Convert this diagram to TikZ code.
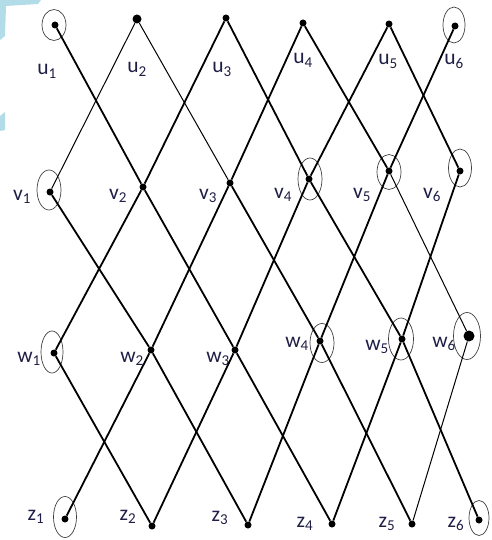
\documentclass[tikz,border=0pt]{standalone}
\usepackage{fontspec}
\setmainfont{Carlito}
\usetikzlibrary{shapes.geometric}
\definecolor{labelink}{RGB}{30,30,70}
\definecolor{cornerblue}{RGB}{178,220,232}
\begin{document}
\begin{tikzpicture}[x=1pt,y=-1pt]
\tikzstyle{vx}=[circle,fill=black,inner sep=0pt,minimum size=7pt]
\tikzstyle{ring}=[ellipse,draw=black!75,line width=.7pt,inner sep=0pt,minimum width=24pt,minimum height=38pt]
\tikzstyle{lbl}=[anchor=base,inner sep=0pt,text=labelink,font=\fontsize{21.5}{21.5}\selectfont]
\tikzstyle{e}=[line width=1.8pt]
\tikzstyle{ethin}=[line width=1pt]
\useasboundingbox (0,0) rectangle (491,540);
\fill[cornerblue] (0,0) -- (41,0) -- (38,4) -- (6,6) -- (5,36) -- (0,40) -- cycle;
\fill[cornerblue] (0,116) -- (5,112) -- (5,130) -- (0,131) -- cycle;
\node[vx] (u1) at (55,25) {};
\node[vx,minimum height=9pt] (u2) at (137,19) {};
\node[vx] (u3) at (226,18) {};
\node[vx] (u4) at (303,23) {};
\node[vx] (u5) at (389,24) {};
\node[vx] (u6) at (455,26) {};
\node[vx] (v1) at (50,192) {};
\node[vx] (v2) at (143,187) {};
\node[vx] (v3) at (230,183) {};
\node[vx] (v4) at (309,179) {};
\node[vx] (v5) at (389,171) {};
\node[vx] (v6) at (460,171) {};
\node[vx] (w1) at (54,353) {};
\node[vx] (w2) at (151,350) {};
\node[vx] (w3) at (235,350) {};
\node[vx] (w4) at (320,341) {};
\node[vx] (w5) at (402,339) {};
\node[vx,minimum height=11pt] (w6) at (469,336) {};
\node[vx] (z1) at (65,519) {};
\node[vx] (z2) at (152,526) {};
\node[vx] (z3) at (248,525) {};
\node[vx] (z4) at (332,524) {};
\node[vx] (z5) at (412,524) {};
\node[vx] (z6) at (479,520) {};
\node[ring,minimum height=31pt] (ru1) at (54,25) {};
\node[ring,minimum width=22pt,minimum height=36pt] (ru6) at (454,25) {};
\node[ring,minimum height=40pt] (rv1) at (49,190) {};
\node[ring,minimum height=42pt] (rv4) at (310,179) {};
\node[ring,minimum height=35pt] (rv5) at (389,172) {};
\node[ring,minimum width=23pt] (rv6) at (460,168) {};
\node[ring,minimum width=22pt,minimum height=42pt] (rw1) at (52,352) {};
\node[ring,minimum height=39pt] (rw4) at (322,343) {};
\node[ring,minimum width=25pt,minimum height=42pt] (rw5) at (401,339) {};
\node[ring,minimum width=27pt,minimum height=47pt] (rw6) at (467,336) {};
\node[ring,minimum width=23pt,minimum height=41pt] (rz1) at (65,517) {};
\node[ring,minimum width=20pt,minimum height=35pt] (rz6) at (479,518) {};
\node[lbl] (lu1) at (47,75) {u\textsubscript{1}};
\node[lbl] (lu2) at (137,73) {u\textsubscript{2}};
\node[lbl] (lu3) at (222,73) {u\textsubscript{3}};
\node[lbl] (lu4) at (303,64) {u\textsubscript{4}};
\node[lbl] (lu5) at (388,65) {u\textsubscript{5}};
\node[lbl] (lu6) at (454,65) {u\textsubscript{6}};
\node[lbl] (lv1) at (22,200) {v\textsubscript{1}};
\node[lbl] (lv2) at (118,199) {v\textsubscript{2}};
\node[lbl] (lv3) at (208,199) {v\textsubscript{3}};
\node[lbl] (lv4) at (283,198) {v\textsubscript{4}};
\node[lbl] (lv5) at (362,198) {v\textsubscript{5}};
\node[lbl] (lv6) at (432,198) {v\textsubscript{6}};
\node[lbl] (lw1) at (29,362) {w\textsubscript{1}};
\node[lbl] (lw2) at (132,362) {w\textsubscript{2}};
\node[lbl] (lw3) at (218,362) {w\textsubscript{3}};
\node[lbl] (lw4) at (297,347) {w\textsubscript{4}};
\node[lbl] (lw5) at (377,350) {w\textsubscript{5}};
\node[lbl] (lw6) at (444,347) {w\textsubscript{6}};
\node[lbl] (lz1) at (36,520) {z\textsubscript{1}};
\node[lbl] (lz2) at (128,520) {z\textsubscript{2}};
\node[lbl] (lz3) at (220,521) {z\textsubscript{3}};
\node[lbl] (lz4) at (305,527) {z\textsubscript{4}};
\node[lbl] (lz5) at (387,527) {z\textsubscript{5}};
\node[lbl] (lz6) at (456,527) {z\textsubscript{6}};
\draw[e] (u1)--(v2);\draw[ethin] (u2)--(v1);\draw[ethin] (u2)--(v3);
\draw[e] (u3)--(v2);\draw[e] (u3)--(v4);\draw[e] (u4)--(v3);\draw[e] (u4)--(v5);
\draw[e] (u5)--(v4);\draw[e] (u5)--(v6);\draw[e] (u6)--(v5);
\draw[e] (v1)--(w2);\draw[e] (v2)--(w1);\draw[e] (v2)--(w3);
\draw[e] (v3)--(w2);\draw[e] (v3)--(w4);\draw[e] (v4)--(w3);\draw[e] (v4)--(w5);
\draw[e] (v5)--(w4);\draw[ethin] (v5)--(w6);\draw[e] (v6)--(w5);
\draw[e] (w1)--(z2);\draw[e] (w2)--(z1);\draw[e] (w2)--(z3);
\draw[e] (w3)--(z2);\draw[e] (w3)--(z4);\draw[e] (w4)--(z3);\draw[e] (w4)--(z5);
\draw[e] (w5)--(z4);\draw[e] (w5)--(z6);\draw[ethin] (w6)--(z5);
\end{tikzpicture}
\end{document}
